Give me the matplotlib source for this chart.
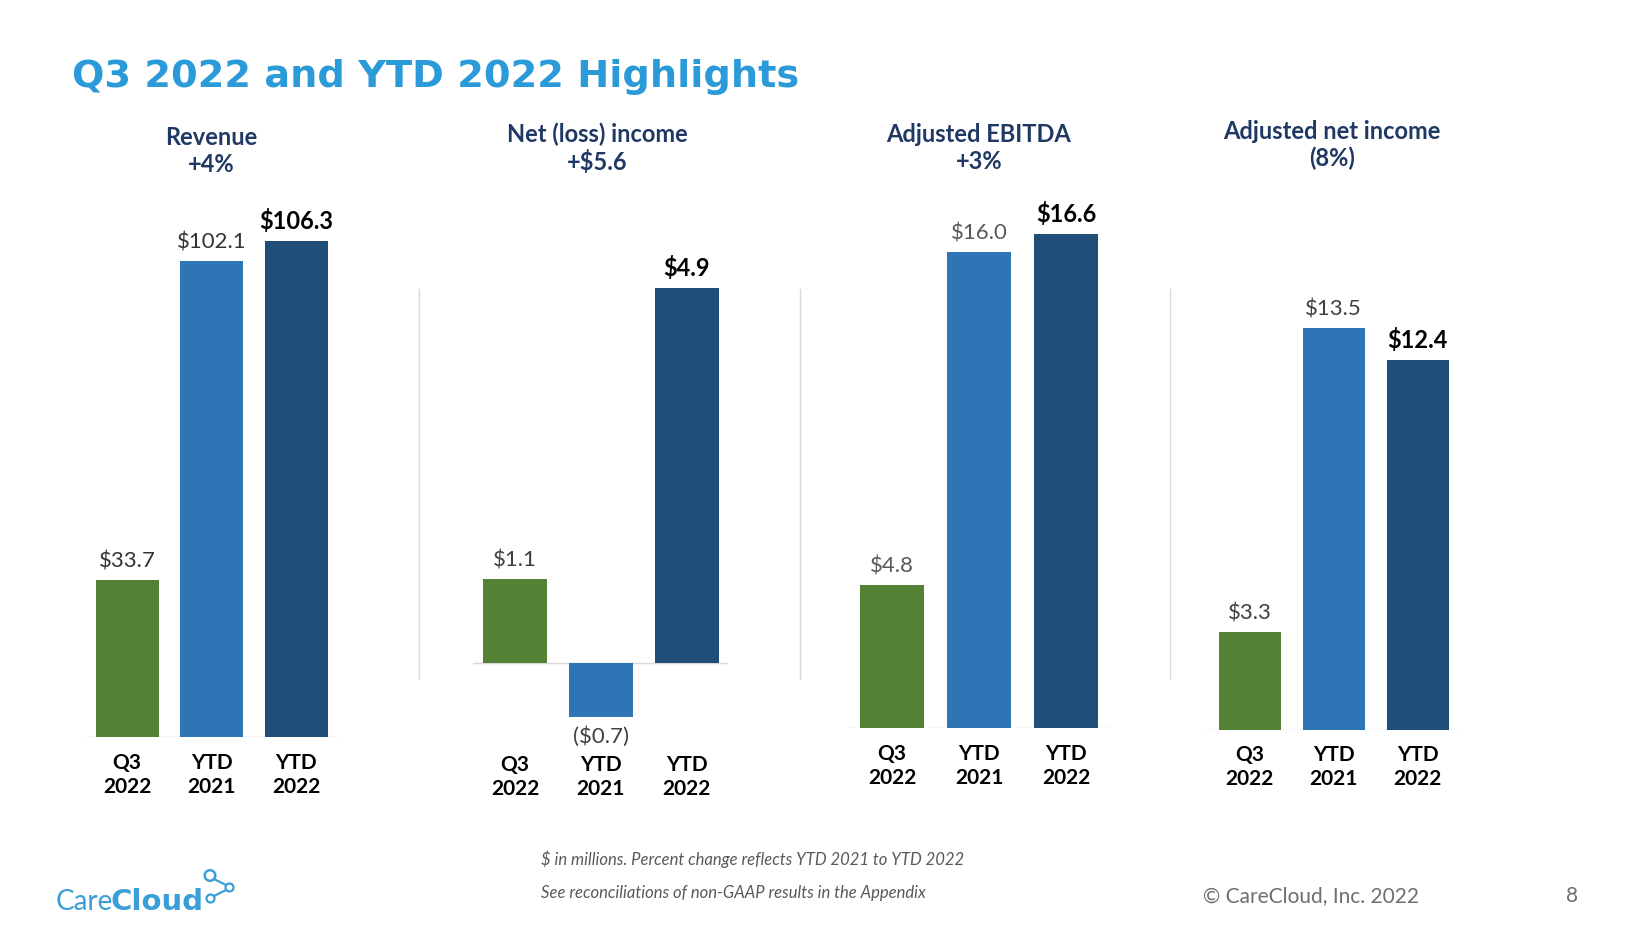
import matplotlib
matplotlib.use("Agg")
import matplotlib.pyplot as plt
from matplotlib.patches import Circle

plt.rcParams['font.family'] = ['Lato', 'DejaVu Sans']

W, H = 1647, 927

# data ($ in millions)
categories = ["Q3\n2022", "YTD\n2021", "YTD\n2022"]
panel_titles = ["Revenue\n+4%", "Net (loss) income\n+$5.6",
                "Adjusted EBITDA\n+3%", "Adjusted net income\n(8%)"]
revenue = [33.7, 102.1, 106.3]
net_income = [1.1, -0.7, 4.9]
adj_ebitda = [4.8, 16.0, 16.6]
adj_net_income = [3.3, 13.5, 12.4]
value_labels = [["$33.7", "$102.1", "$106.3"],
                ["$1.1", "($0.7)", "$4.9"],
                ["$4.8", "$16.0", "$16.6"],
                ["$3.3", "$13.5", "$12.4"]]
series = [revenue, net_income, adj_ebitda, adj_net_income]

bar_colors = ["#548235", "#2e75b6", "#1f4e79"]
label_colors = ["#333333", "#404040", "#595959", "#404040"]

# layout in pixels: line left/right, first & last bar centre, baseline, px per unit,
# bar width, axes bottom, title x/y, first category row
layout = [
    dict(l=84, r=338, c0=127, c2=296, base=737, ppu=4.664, bw=63, bot=737, tx=211, ty=151, row=763),
    dict(l=473, r=728, c0=515, c2=686.5, base=663, ppu=76.5, bw=64, bot=745, tx=597, ty=148, row=765),
    dict(l=849, r=1110, c0=892, c2=1066, base=728, ppu=29.75, bw=64, bot=728, tx=979, ty=148, row=754),
    dict(l=1205, r=1460, c0=1249.5, c2=1417.5, base=730, ppu=29.8, bw=62, bot=730, tx=1332, ty=145, row=755),
]
TOP = 180

fig = plt.figure(figsize=(W / 100, H / 100), dpi=100)
fig.patch.set_facecolor("white")

# overlay in pixel coordinates for title, separators, footer and logo
ov = fig.add_axes([0, 0, 1, 1])
ov.set_xlim(0, W)
ov.set_ylim(H, 0)
ov.axis("off")

ov.text(72, 87, "Q3 2022 and YTD 2022 Highlights", ha="left", va="baseline",
        fontsize=27.5, fontweight="bold", color="#2a9ad8", family="DejaVu Sans")

for x in [419, 800, 1170]:
    ov.plot([x, x], [289, 679], color="#d9d9d9", lw=1)

for k, (vals, lay) in enumerate(zip(series, layout)):
    s = (lay["c2"] - lay["c0"]) / 2
    ax = fig.add_axes([lay["l"] / W, 1 - lay["bot"] / H,
                       (lay["r"] - lay["l"]) / W, (lay["bot"] - TOP) / H])
    ax.set_xlim((lay["l"] - lay["c0"]) / s, (lay["r"] - lay["c0"]) / s)
    ax.set_ylim((lay["base"] - lay["bot"]) / lay["ppu"], (lay["base"] - TOP) / lay["ppu"])
    ax.patch.set_alpha(0)
    for sp in ax.spines.values():
        sp.set_visible(False)
    ax.set_yticks([])
    ax.axhline(0, color="#d9d9d9", lw=1, zorder=1)
    xs = range(len(vals))
    ax.bar(xs, vals, width=lay["bw"] / s, color=bar_colors, zorder=2)

    for i, v in enumerate(vals):
        last = i == len(vals) - 1
        ax.annotate(value_labels[k][i], (i, v), xytext=(0, 6 if v >= 0 else -7),
                    textcoords="offset points", ha="center",
                    va="bottom" if v >= 0 else "top",
                    fontsize=17 if last else 16,
                    fontweight="bold" if last else "normal",
                    color="#000000" if last else label_colors[k])

    ax.set_xticks(list(xs))
    ax.set_xticklabels(categories, fontsize=15, fontweight="bold", color="#000000",
                       linespacing=1.25)
    ax.tick_params(axis="x", length=0, pad=(lay["row"] - 10 - lay["bot"]) * 0.72)

    ov.text(lay["tx"], lay["ty"], panel_titles[k], ha="center", va="center",
            fontsize=17, fontweight="bold", color="#203864", linespacing=1.2)

# footer
ov.text(541, 859, "$ in millions. Percent change reflects YTD 2021 to YTD 2022",
        ha="left", va="center", fontsize=12, style="italic", color="#595959")
ov.text(541, 893, "See reconciliations of non-GAAP results in the Appendix",
        ha="left", va="center", fontsize=12, style="italic", color="#595959")
ov.text(1203, 896, "\u00a9 CareCloud, Inc. 2022", ha="left", va="center",
        fontsize=15, color="#6e6e6e")
ov.text(1572, 896, "8", ha="center", va="center", fontsize=15, color="#6e6e6e")

# logo
logo_c = "#3a9fd9"
ov.text(56, 910, "Care", ha="left", va="baseline", fontsize=20, color=logo_c)
ov.text(111, 910, "Cloud", ha="left", va="baseline", fontsize=21, color=logo_c,
        fontweight="bold", family="DejaVu Sans")
ov.plot([214, 226], [879, 885], color=logo_c, lw=1.6)
ov.plot([226, 214], [890, 896], color=logo_c, lw=1.6)
ov.add_patch(Circle((210, 875.5), 5.3, fill=False, ec=logo_c, lw=1.8))
ov.add_patch(Circle((229.5, 887.5), 4, fill=False, ec=logo_c, lw=1.6))
ov.add_patch(Circle((210.5, 898.5), 4, fill=False, ec=logo_c, lw=1.6))

fig.savefig("out.png", dpi=100, facecolor="white")
